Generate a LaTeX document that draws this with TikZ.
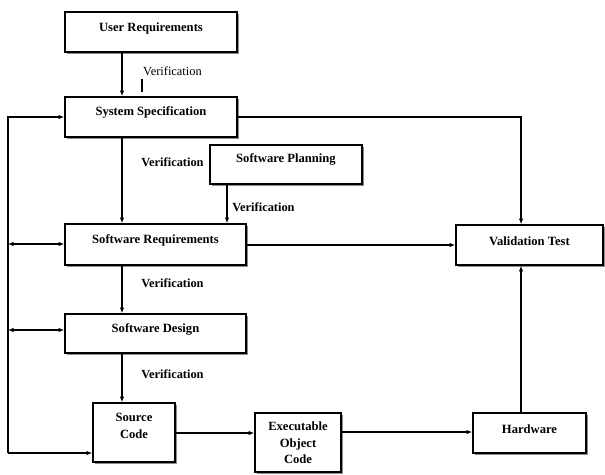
\documentclass[tikz,border=0pt]{standalone}
\usepackage{fontspec}
\setmainfont{Liberation Serif}
\usetikzlibrary{arrows.meta,shadows}

\begin{document}
\begin{tikzpicture}[x=1pt,y=-1pt,
  box/.style={draw, line width=1.6pt, fill=white, rectangle, inner sep=0pt,
    drop shadow={shadow xshift=1.6pt, shadow yshift=-1.6pt, fill=black!45, opacity=1}},
  lbl/.style={font=\fontsize{12.6}{16.5}\selectfont\bfseries, align=center, inner sep=0pt, anchor=center},
  verif/.style={font=\fontsize{12.4}{14}\selectfont\bfseries, inner sep=0pt},
  arr/.style={line width=1.4pt, -{Latex[length=5.5pt,width=4.5pt]}},
  arrb/.style={line width=1.4pt, {Latex[length=5.5pt,width=4.5pt]}-{Latex[length=5.5pt,width=4.5pt]}}
]
\useasboundingbox (0,0) rectangle (605,474);

% process boxes, each with its title near the top edge
\node[box, minimum width=172pt, minimum height=40pt,
  label={[lbl,yshift=-17pt]north:User Requirements}] (ur) at (151,32) {};
\node[box, minimum width=172pt, minimum height=40pt,
  label={[lbl,yshift=-16pt]north:System Specification}] (ss) at (151,117) {};
\node[box, minimum width=152pt, minimum height=39pt,
  label={[lbl,yshift=-15pt]north:Software Planning}] (sp) at (286,164.5) {};
\node[box, minimum width=181pt, minimum height=41pt,
  label={[lbl,yshift=-17pt]north:Software Requirements}] (sr) at (155.5,244.5) {};
\node[box, minimum width=147pt, minimum height=40pt,
  label={[lbl,yshift=-17pt]north:Validation Test}] (vt) at (529.5,245) {};
\node[box, minimum width=181pt, minimum height=39pt,
  label={[lbl,yshift=-16pt]north:Software Design}] (sd) at (155.5,333.5) {};
\node[box, minimum width=82pt, minimum height=59pt,
  label={[lbl,yshift=-23.5pt]north:Source\\Code}] (sc) at (134,432.5) {};
\node[box, minimum width=86pt, minimum height=59pt,
  label={[lbl,yshift=-30.5pt]north:Executable\\Object\\Code}] (ex) at (298,442.5) {};
\node[box, minimum width=113pt, minimum height=40pt,
  label={[lbl,yshift=-17pt]north:Hardware}] (hw) at (529.5,433) {};

% guide columns for the vertical connectors
\coordinate (vx) at (122,0);
\coordinate (spx) at (227,0);
\coordinate (vtx) at (521,0);
\coordinate (lb) at (8,0);
\coordinate (fb) at (8,453);

% verification labels
\node[font=\fontsize{12.4}{14}\selectfont, inner sep=0pt] (v0) at (172.5,71) {Verification};
\node[verif] (v1) at (172.5,162) {Verification};
\node[verif] (v2) at (263.5,207) {Verification};
\node[verif] (v3) at (172.5,283) {Verification};
\node[verif] (v4) at (172.5,374) {Verification};
\draw[line width=1.4pt] (142,79) -- (142,92);

% main verification chain
\draw[arr] (ur.south -| vx) -- (ss.north -| vx);
\draw[arr] (ss.south -| vx) -- (sr.north -| vx);
\draw[arr] (sp.south -| spx) -- (sr.north -| spx);
\draw[arr] (sr.south -| vx) -- (sd.north -| vx);
\draw[arr] (sd.south -| vx) -- (sc.north -| vx);

% implementation path
\draw[arr] ([yshift=-0.5pt]sc.east) -- ([yshift=-0.5pt]sc.east -| ex.west);
\draw[arr] ([yshift=1pt]hw.west -| ex.east) -- ([yshift=1pt]hw.west);

% validation inputs
\draw[arr] (ss.east) -| (vt.north -| vtx);
\draw[arr] ([yshift=-0.5pt]sr.east) -- ([yshift=-0.5pt]sr.east -| vt.west);
\draw[arr] (hw.north -| vtx) -- (vt.south -| vtx);

% feedback bus on the left
\draw[arr] (fb) -- (fb -| sc.west);
\draw[arr] (fb) |- (ss.west);
\draw[arrb] ([yshift=0.5pt]lb |- sr.west) -- ([yshift=0.5pt]sr.west);
\draw[arrb] ([yshift=3.5pt]lb |- sd.west) -- ([yshift=3.5pt]sd.west);
\end{tikzpicture}
\end{document}
